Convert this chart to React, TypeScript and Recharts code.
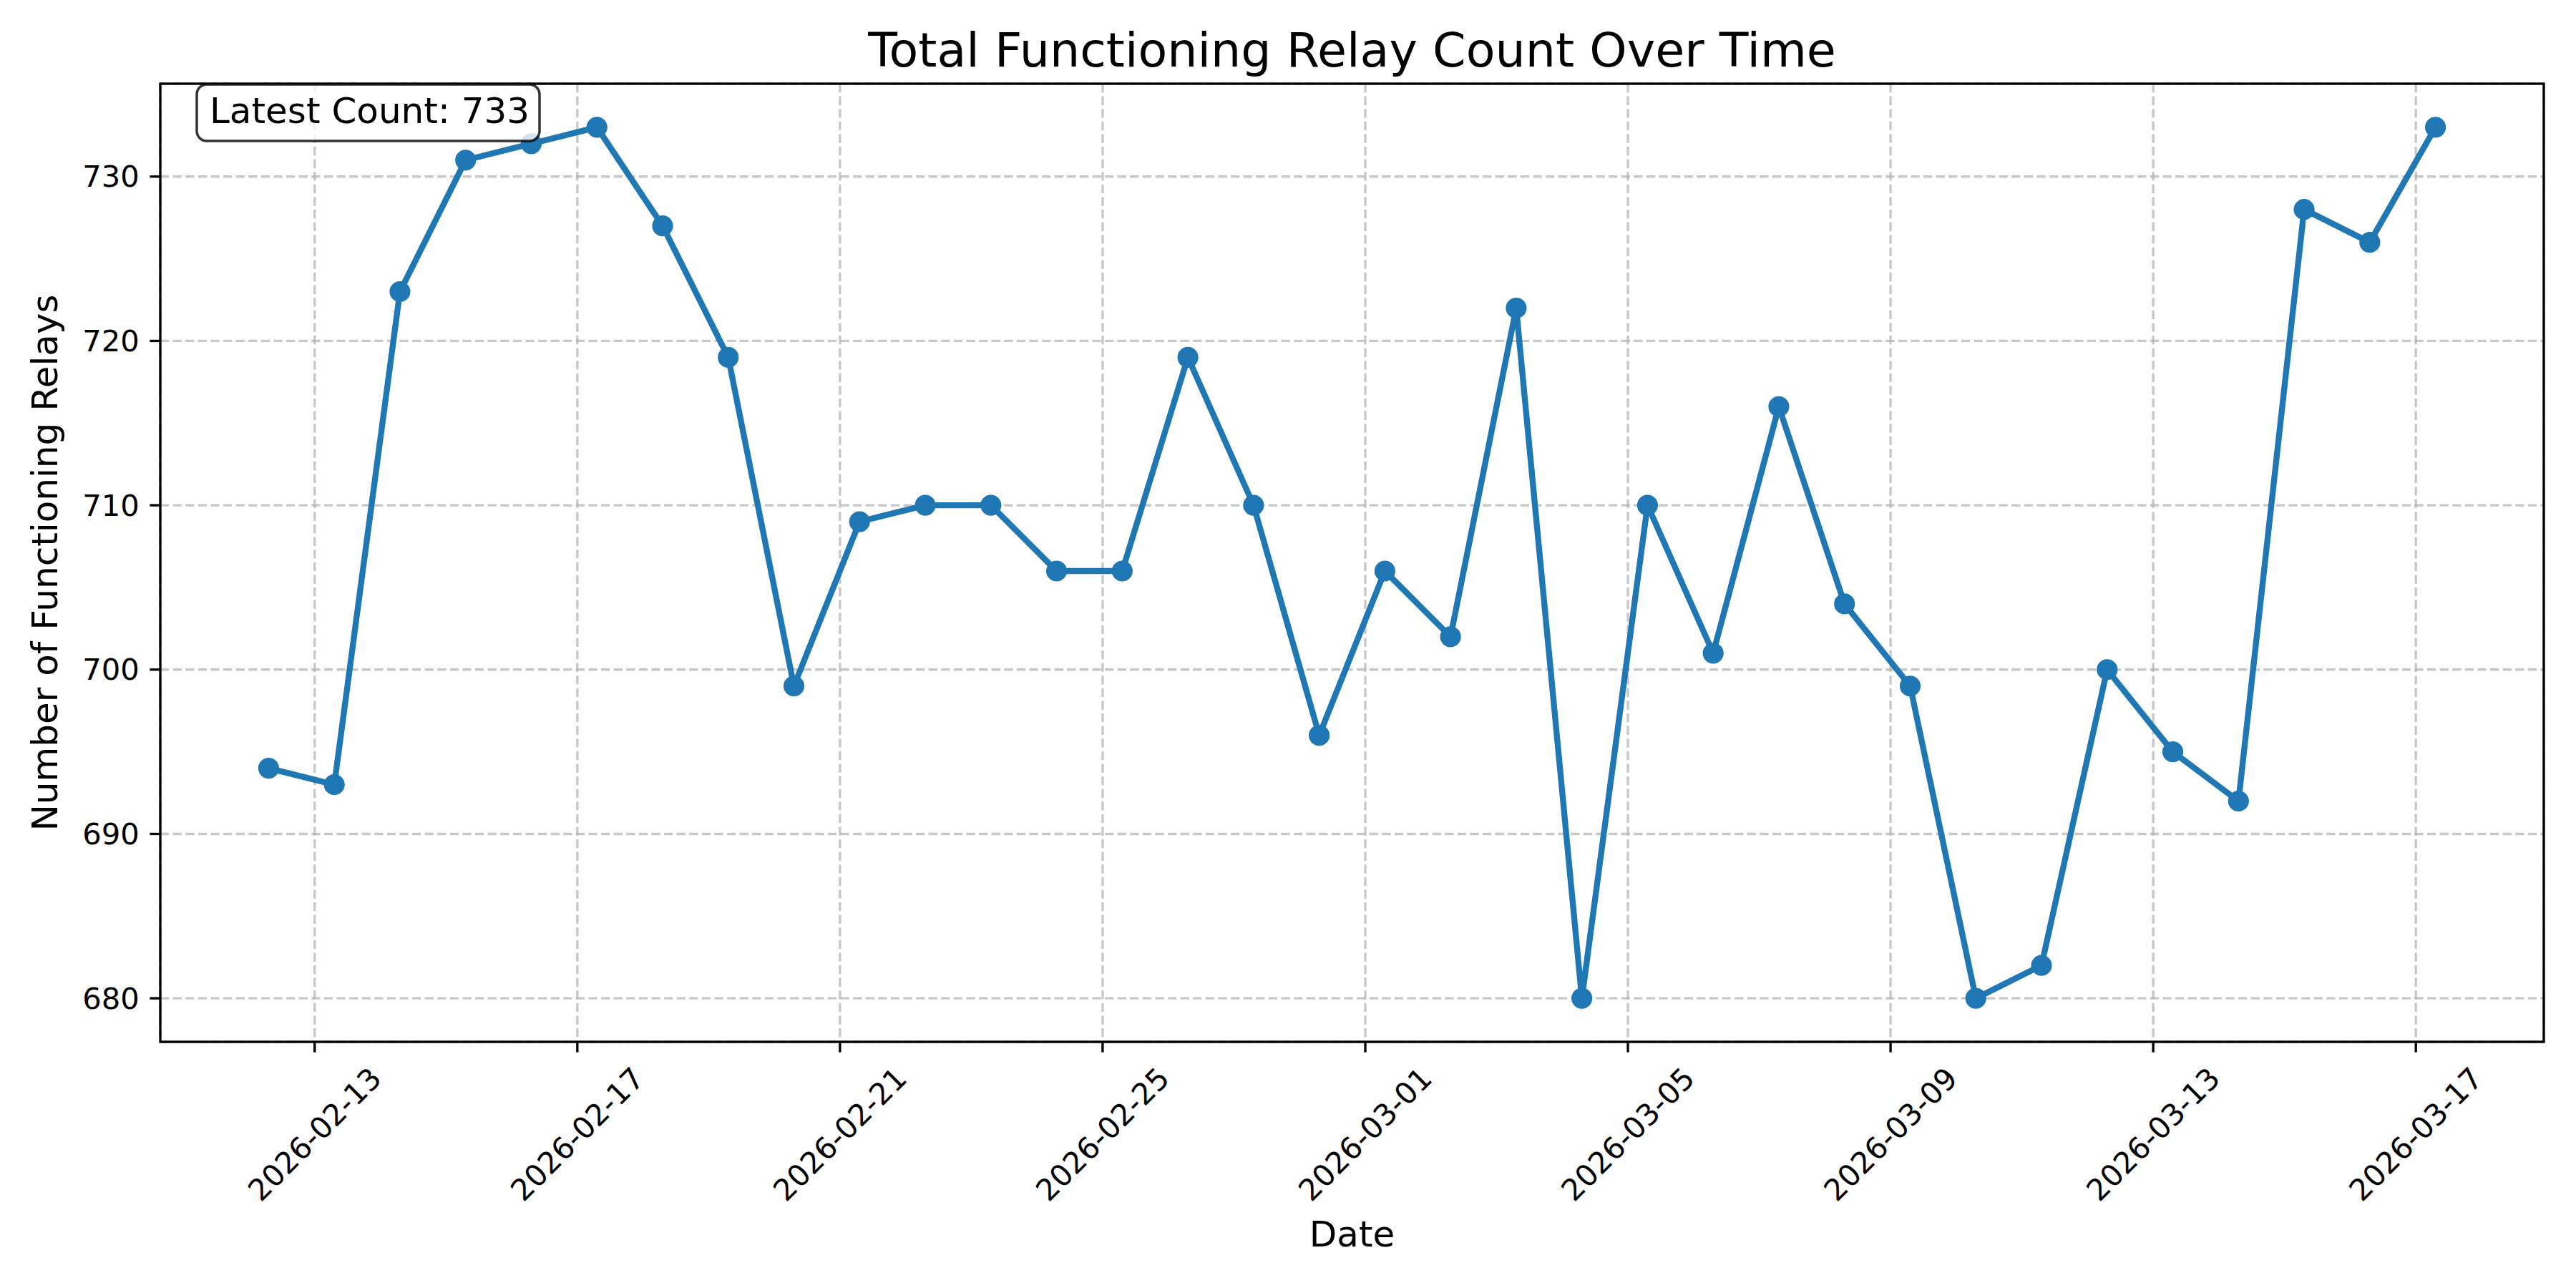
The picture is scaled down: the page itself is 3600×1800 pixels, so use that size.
import React from "react";
import { LineChart, Line, XAxis, YAxis, CartesianGrid } from "recharts";

// one reading per day, taken around 07:10 UTC
const dates = [
  "2026-02-12", "2026-02-13", "2026-02-14", "2026-02-15", "2026-02-16", "2026-02-17",
  "2026-02-18", "2026-02-19", "2026-02-20", "2026-02-21", "2026-02-22", "2026-02-23",
  "2026-02-24", "2026-02-25", "2026-02-26", "2026-02-27", "2026-02-28", "2026-03-01",
  "2026-03-02", "2026-03-03", "2026-03-04", "2026-03-05", "2026-03-06", "2026-03-07",
  "2026-03-08", "2026-03-09", "2026-03-10", "2026-03-11", "2026-03-12", "2026-03-13",
  "2026-03-14", "2026-03-15", "2026-03-16", "2026-03-17",
];
const counts = [
  694, 693, 723, 731, 732, 733, 727, 719, 699, 709, 710, 710, 706, 706, 719, 710, 696,
  706, 702, 722, 680, 710, 701, 716, 704, 699, 680, 682, 700, 695, 692, 728, 726, 733,
];
const xTickLabels = [
  "2026-02-13", "2026-02-17", "2026-02-21", "2026-02-25", "2026-03-01",
  "2026-03-05", "2026-03-09", "2026-03-13", "2026-03-17",
];
const yTicks = [680, 690, 700, 710, 720, 730];

const data = dates.map((d, i) => ({ t: Date.parse(d + "T07:10:00Z"), count: counts[i] }));
const xTicks = xTickLabels.map((d) => Date.parse(d + "T00:00:00Z"));

// matplotlib-style 5% margins
const tMin = data[0].t;
const tMax = data[data.length - 1].t;
const tPad = (tMax - tMin) * 0.05;
const yLo = Math.min(...counts);
const yHi = Math.max(...counts);
const yPad = (yHi - yLo) * 0.05;

const FONT = "'DejaVu Sans', sans-serif";
const BLUE = "#1f77b4";
const fmtDate = (v: number) => new Date(v).toISOString().slice(0, 10);

const XTick = (props: any) => {
  const { x, y, payload } = props;
  const cy = y + 100;
  return (
    <text
      x={x}
      y={cy}
      transform={`rotate(-45 ${x} ${cy})`}
      textAnchor="middle"
      dominantBaseline="central"
      fontFamily={FONT}
      fontSize={41.67}
      fill="#000"
    >
      {fmtDate(payload.value)}
    </text>
  );
};

const YTick = (props: any) => {
  const { x, y, payload } = props;
  return (
    <text x={x} y={y} textAnchor="end" dominantBaseline="central" fontFamily={FONT} fontSize={41.67} fill="#000">
      {payload.value}
    </text>
  );
};

export default function App() {
  const plot = { left: 224, top: 117, right: 3555, bottom: 1456 };
  return (
    <div style={{ position: "absolute", left: 0, top: 0, width: 3600, height: 1800, background: "#fff" }}>
      <LineChart
        width={3600}
        height={1800}
        data={data}
        margin={{ top: plot.top, right: 3600 - plot.right, bottom: 0, left: 0 }}
      >
        <CartesianGrid
          stroke="#b0b0b0"
          strokeOpacity={0.7}
          strokeWidth={3.33}
          strokeDasharray="12.3 5.3"
        />
        <XAxis
          dataKey="t"
          type="number"
          domain={[tMin - tPad, tMax + tPad]}
          allowDataOverflow
          ticks={xTicks}
          interval={0}
          height={1800 - plot.bottom}
          axisLine={false}
          tickLine={{ stroke: "#000", strokeWidth: 3.33 }}
          tickSize={14.6}
          tickMargin={14.6}
          tick={<XTick />}
        />
        <YAxis
          type="number"
          domain={[yLo - yPad, yHi + yPad]}
          allowDataOverflow
          ticks={yTicks}
          interval={0}
          width={plot.left}
          axisLine={false}
          tickLine={{ stroke: "#000", strokeWidth: 3.33 }}
          tickSize={14.6}
          tickMargin={14.6}
          tick={<YTick />}
        />
        <Line
          type="linear"
          dataKey="count"
          stroke={BLUE}
          strokeWidth={8.33}
          dot={{ r: 12.5, fill: BLUE, stroke: BLUE, strokeWidth: 4.17 }}
          activeDot={false}
          isAnimationActive={false}
        />
      </LineChart>
      <svg
        width={3600}
        height={1800}
        style={{ position: "absolute", left: 0, top: 0, pointerEvents: "none" }}
      >
        <rect
          x={plot.left}
          y={plot.top}
          width={plot.right - plot.left}
          height={plot.bottom - plot.top}
          fill="none"
          stroke="#000"
          strokeWidth={3.33}
        />
        <text x={1889.5} y={93} textAnchor="middle" fontFamily={FONT} fontSize={66.67} fill="#000">
          Total Functioning Relay Count Over Time
        </text>
        <text x={1889.5} y={1742} textAnchor="middle" fontFamily={FONT} fontSize={50} fill="#000">
          Date
        </text>
        <text
          x={80}
          y={786.5}
          transform="rotate(-90 80 786.5)"
          textAnchor="middle"
          fontFamily={FONT}
          fontSize={50}
          fill="#000"
        >
          Number of Functioning Relays
        </text>
        <rect
          x={275}
          y={118}
          width={479}
          height={79}
          rx={14}
          fill="#fff"
          fillOpacity={0.8}
          stroke="#000"
          strokeOpacity={0.8}
          strokeWidth={3.5}
        />
        <text x={293} y={172} fontFamily={FONT} fontSize={50} fill="#000">
          Latest Count: {counts[counts.length - 1]}
        </text>
      </svg>
    </div>
  );
}
